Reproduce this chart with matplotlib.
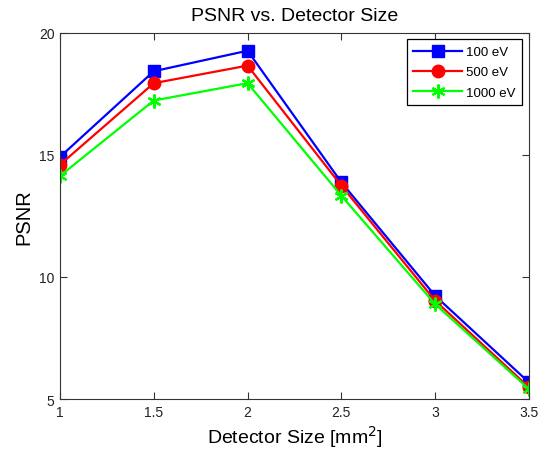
import numpy as np
import matplotlib
matplotlib.use("Agg")
import matplotlib.pyplot as plt
from matplotlib import rcParams

rcParams['font.family'] = ['Liberation Sans', 'DejaVu Sans']

# Tamanho do detector (mm^2) e PSNR para cada energia
detector_size = [1, 1.5, 2, 2.5, 3, 3.5]
psnr_100ev = [14.92, 18.43, 19.27, 13.88, 9.23, 5.68]
psnr_500ev = [14.60, 17.94, 18.66, 13.74, 9.03, 5.48]
psnr_1000ev = [14.14, 17.23, 17.94, 13.33, 8.89, 5.41]

fig = plt.figure(figsize=(5.39, 4.52), dpi=100)
ax = fig.add_axes([0.1113, 0.115, 0.870, 0.810])

ax.plot(detector_size, psnr_100ev, marker="s", color="blue", lw=1.6, ms=8, label="100 eV")
ax.plot(detector_size, psnr_500ev, marker="o", color="red", lw=1.6, ms=9, label="500 eV")
# asterisco de 6 pontas, como no MATLAB
ax.plot(detector_size, psnr_1000ev, marker=(6, 2, 0), color="#00ff00", lw=1.6, ms=10,
        mew=1.6, label="1000 eV")

ax.set_xlim(1, 3.5)
ax.set_ylim(5, 20)
ax.set_xticks([1, 1.5, 2, 2.5, 3, 3.5])
ax.set_xticklabels(["1", "1.5", "2", "2.5", "3", "3.5"])
ax.set_yticks([5, 10, 15, 20])
ax.tick_params(direction="in", top=True, right=True, labelsize=10, length=5, pad=4,
               color="#333333", labelcolor="#222222")
for s in ax.spines.values():
    s.set_color("#333333")

ax.set_title("PSNR vs. Detector Size", fontsize=14, pad=9)
ax.set_xlabel("Detector Size [mm$^2$]", fontsize=14, labelpad=3)
ax.set_ylabel("PSNR", fontsize=14.5, labelpad=4)
leg = ax.legend(loc="upper right", fontsize=9.5, fancybox=False, edgecolor="black",
                framealpha=1, handlelength=3.7, handletextpad=0.3, borderpad=0.5,
                labelspacing=0.6, borderaxespad=0.5)
leg.get_frame().set_linewidth(0.9)

plt.savefig("out.png", dpi=100)
